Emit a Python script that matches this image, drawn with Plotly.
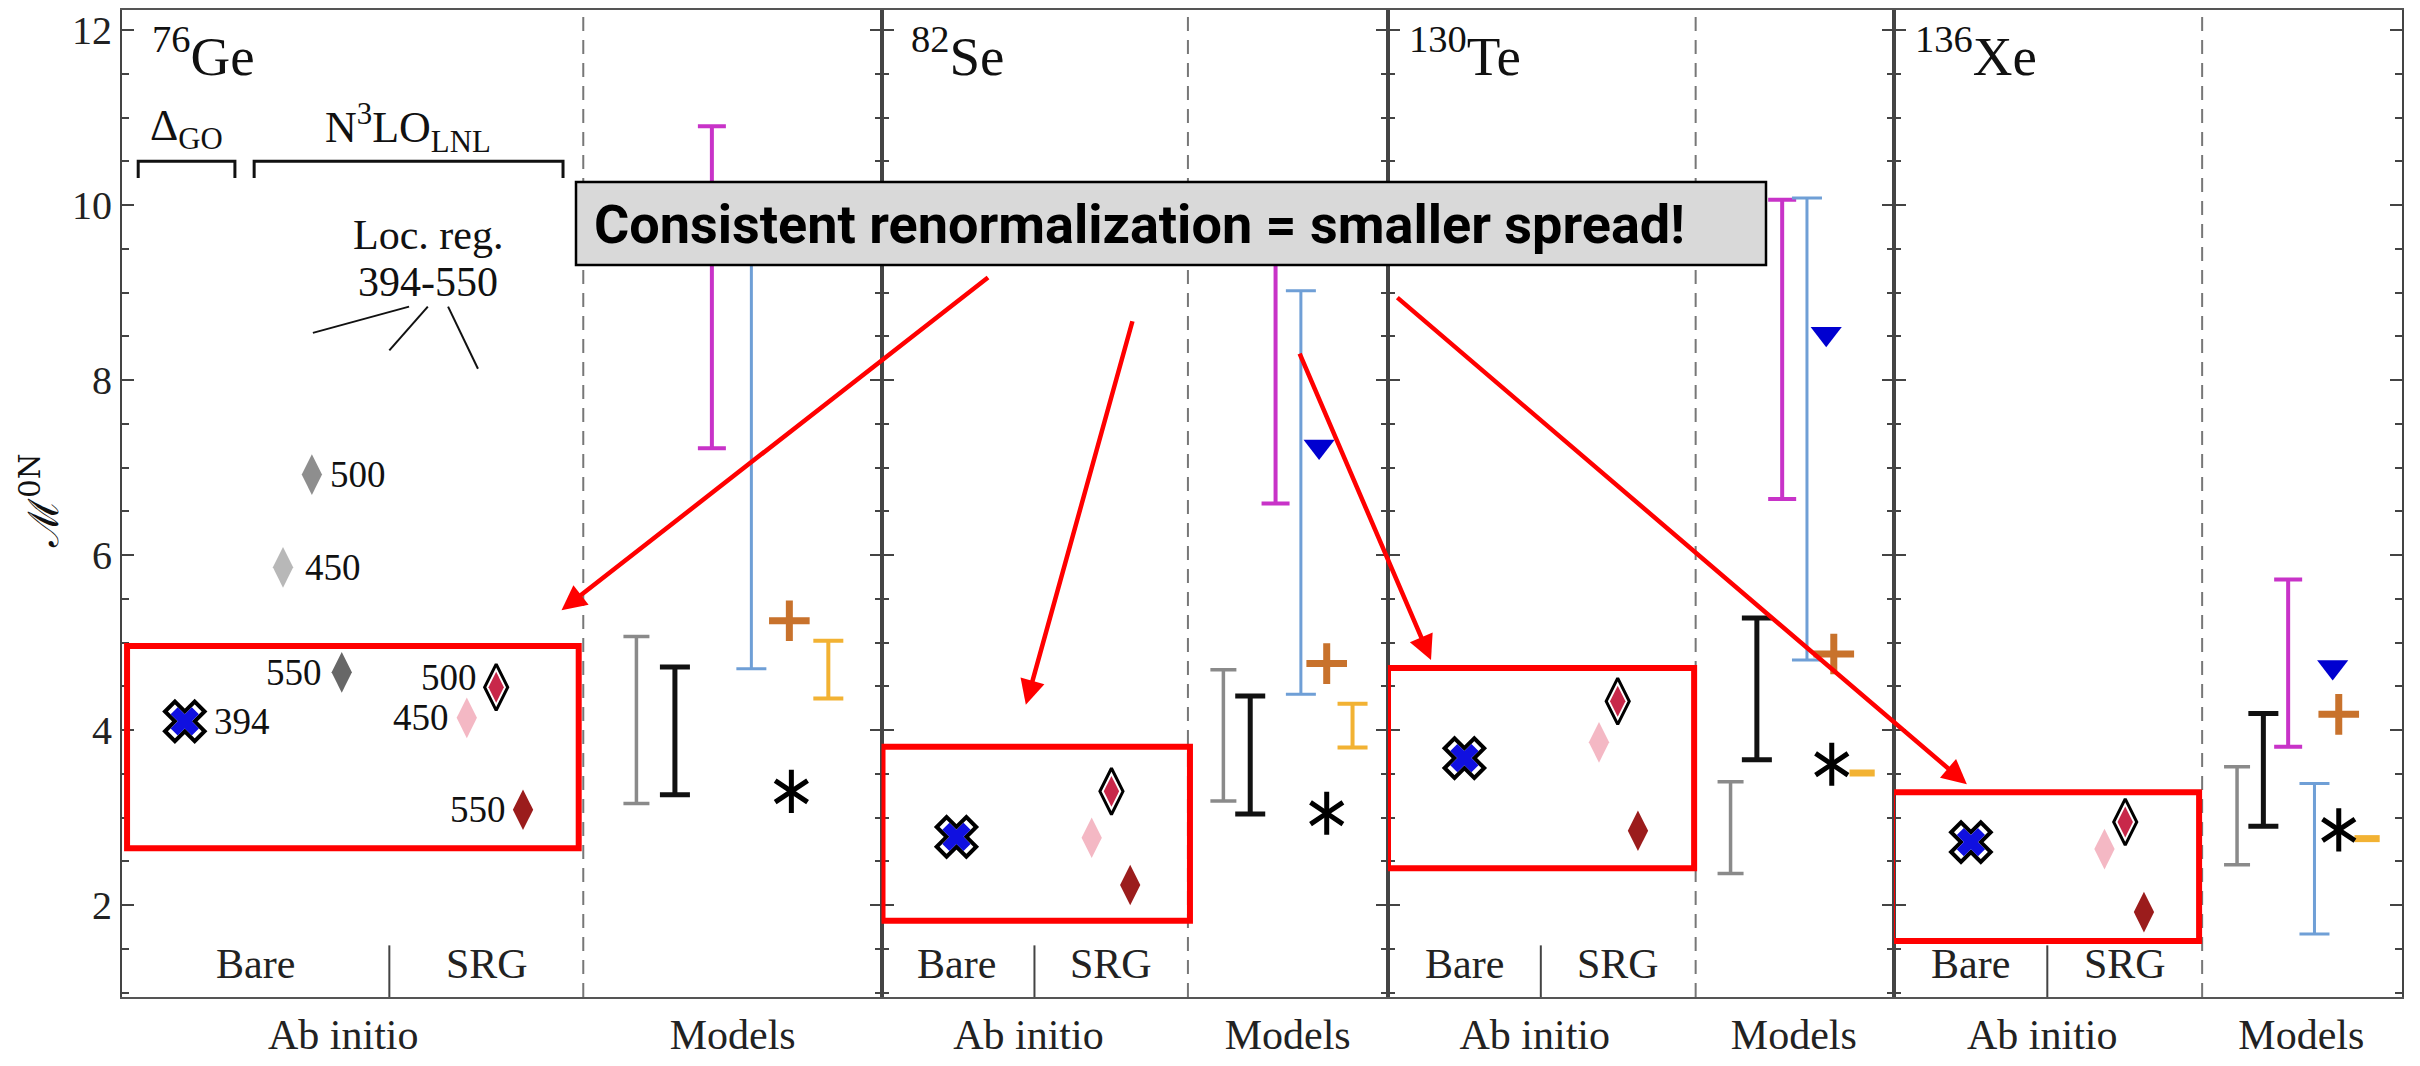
import numpy as np
import plotly.graph_objects as go

# ---------------- data ----------------
Y_RANGE = [0.95, 12.23]
panel_names = ["Ge", "Se", "Te", "Xe"]
panel_mass = ["76", "82", "130", "136"]
x_cat_labels = ["Ab initio", "Models"]

# Ab initio (bare cross = 394, SRG diamonds = 450/500/550)
bare_394 = [4.10, 2.78, 3.68, 2.72]
srg_450 = [4.14, 2.77, 3.86, 2.64]
srg_500 = [4.49, 3.30, 4.33, 2.95]
srg_550 = [3.09, 2.23, 2.85, 1.92]
ge_bare_cutoffs = ["450", "500", "550"]
ge_bare_values = [5.86, 6.92, 4.66]
ge_srg_cutoffs = ["450", "500", "550"]

# Models: ranges (low, high)
gray_lo = [3.16, 3.19, 2.36, 2.46]
gray_hi = [5.07, 4.69, 3.41, 3.58]
black_lo = [3.26, 3.04, 3.66, 2.90]
black_hi = [4.72, 4.39, 5.28, 4.19]
magenta_lo = [7.22, 6.59, 6.64, 3.81]
magenta_hi = [10.90, 9.85, 10.06, 5.72]
blue_lo = [4.70, 4.41, 4.80, 1.67]
blue_hi = [9.90, 9.02, 10.08, 3.39]
yellow_lo = [4.36, 3.80, 3.51, 2.76]
yellow_hi = [5.02, 4.30, 3.51, 2.76]
triangle_vals = [None, 7.24, 8.53, 4.72]
plus_vals = [5.25, 4.76, 4.87, 4.18]
star_vals = [3.30, 3.05, 3.61, 2.86]

# ---------------- layout of slots (local panel units) ----------------
panel_px = [122, 881.5, 1388, 1894, 2402]
panel_range = [15.0, 10.0, 10.0, 10.04]

slots = [
    dict(bare=1.24, s450=6.81, s500=7.39, s550=7.92, sep=5.28, dash=9.11, ab=4.37, mod=12.06,
         gray=10.16, black=10.92, mag=11.65, blue=12.43, tri=None, plus=13.18, star=13.22, yel=13.95,
         baretxt=2.63, srgtxt=7.21),
    dict(bare=1.48, s450=4.15, s500=4.54, s550=4.91, sep=3.02, dash=6.05, ab=2.90, mod=8.02,
         gray=6.75, black=7.28, mag=7.78, blue=8.28, tri=8.64, plus=8.79, star=8.79, yel=9.30,
         baretxt=1.48, srgtxt=4.54),
    dict(bare=1.51, s450=4.17, s500=4.54, s550=4.94, sep=3.02, dash=6.08, ab=2.90, mod=8.02,
         gray=6.77, black=7.29, mag=7.79, blue=8.28, tri=8.66, plus=8.81, star=8.77, yel=9.37,
         baretxt=1.51, srgtxt=4.54),
    dict(bare=1.52, s450=4.16, s500=4.57, s550=4.94, sep=3.03, dash=6.09, ab=2.93, mod=8.05,
         gray=6.78, black=7.30, mag=7.79, blue=8.31, tri=8.67, plus=8.79, star=8.79, yel=9.35,
         baretxt=1.52, srgtxt=4.57),
]
ge_bare_x = [3.18, 3.75, 4.34]

SERIF = "Liberation Serif"
C_GRAY, C_BLACK, C_MAG, C_BLUE, C_YEL = "#8a8a8a", "#111111", "#c833c8", "#6f9fd6", "#f2b233"
C_PLUS, C_TRI = "#c8722c", "#0000d0"
C_PINK, C_CRIM, C_DRED = "#f4b8c4", "#c8284a", "#9b1c1c"
GE_BARE_COLORS = ["#b8b8b8", "#8e8e8e", "#676767"]

fig = go.Figure()
shapes, annotations = [], []
layout = dict(width=2420, height=1066, margin=dict(l=122, r=18, t=8, b=59),
              paper_bgcolor="white", plot_bgcolor="white", showlegend=False)

W = panel_px[-1] - panel_px[0]


def add(tr, xa, ya):
    tr.update(xaxis=xa, yaxis=ya, showlegend=False, hoverinfo="skip")
    fig.add_trace(tr)


def errbar(x, lo, hi, color, thick, w, xa, ya):
    add(go.Scatter(x=[x], y=[lo], mode="markers",
                   marker=dict(size=1, color="rgba(0,0,0,0)"),
                   error_y=dict(type="data", symmetric=False, array=[hi - lo], arrayminus=[0],
                                color=color, thickness=thick, width=w)), xa, ya)


for i in range(4):
    xa = "x" if i == 0 else f"x{i+1}"
    ya = "y" if i == 0 else f"y{i+1}"
    xk = "xaxis" if i == 0 else f"xaxis{i+1}"
    yk = "yaxis" if i == 0 else f"yaxis{i+1}"
    s = slots[i]
    d0 = (panel_px[i] - panel_px[0]) / W
    d1 = (panel_px[i + 1] - panel_px[0]) / W
    layout[xk] = dict(domain=[d0, d1], range=[0, panel_range[i]], anchor=ya,
                      showline=True, linecolor="#555", linewidth=2, mirror=True,
                      ticks="", tickvals=[s["ab"], s["mod"]], ticktext=x_cat_labels,
                      tickfont=dict(family=SERIF, size=42, color="#222"),
                      showgrid=False, zeroline=False)
    layout[yk] = dict(domain=[0, 1], range=Y_RANGE, anchor=xa,
                      showline=True, linecolor="#444", linewidth=2, mirror="ticks",
                      ticks="inside", ticklen=12, tickwidth=2, tickcolor="#444",
                      tickvals=[2, 4, 6, 8, 10, 12], showticklabels=(i == 0),
                      tickfont=dict(family=SERIF, size=40, color="#222"),
                      minor=dict(dtick=0.5, tick0=0, ticks="inside", ticklen=7,
                                 tickwidth=2, tickcolor="#444"),
                      showgrid=False, zeroline=False)

    # dashed separator Ab initio | Models
    shapes.append(dict(type="line", xref=xa, yref=f"{ya} domain", x0=s["dash"], x1=s["dash"],
                       y0=0, y1=1, line=dict(color="#777", width=2, dash="14px,9px"), layer="below"))
    # Bare | SRG separator
    shapes.append(dict(type="line", xref=xa, yref=ya, x0=s["sep"], x1=s["sep"],
                       y0=Y_RANGE[0], y1=1.54, line=dict(color="#444", width=2)))
    annotations.append(dict(xref=xa, yref=ya, x=s["baretxt"], y=1.33, text="Bare", showarrow=False,
                            font=dict(family=SERIF, size=42, color="#222")))
    annotations.append(dict(xref=xa, yref=ya, x=s["srgtxt"], y=1.33, text="SRG", showarrow=False,
                            font=dict(family=SERIF, size=42, color="#222")))
    # nucleus label
    annotations.append(dict(xref=xa, yref=ya, x=(0.55 if i < 2 else 0.37), y=11.75,
                            xanchor="left", yanchor="middle",
                            text=f"<sup>{panel_mass[i]}</sup>{panel_names[i]}", showarrow=False,
                            font=dict(family=SERIF, size=55, color="#111")))

    # ---- models ----
    errbar(s["gray"], gray_lo[i], gray_hi[i], C_GRAY, 3.5, 13, xa, ya)
    errbar(s["black"], black_lo[i], black_hi[i], C_BLACK, 5, 15, xa, ya)
    errbar(s["mag"], magenta_lo[i], magenta_hi[i], C_MAG, 4, 14, xa, ya)
    errbar(s["blue"], blue_lo[i], blue_hi[i], C_BLUE, 3, 15, xa, ya)
    if yellow_hi[i] > yellow_lo[i]:
        errbar(s["yel"], yellow_lo[i], yellow_hi[i], C_YEL, 4, 15, xa, ya)
    else:
        add(go.Scatter(x=[s["yel"]], y=[yellow_lo[i]], mode="markers",
                       marker=dict(symbol="line-ew", size=18, line=dict(color=C_YEL, width=7))), xa, ya)
    if triangle_vals[i] is not None:
        add(go.Scatter(x=[s["tri"]], y=[triangle_vals[i]], mode="markers",
                       marker=dict(symbol="triangle-down", size=27, color=C_TRI)), xa, ya)
    add(go.Scatter(x=[s["plus"]], y=[plus_vals[i]], mode="markers",
                   marker=dict(symbol="cross-thin", size=29, line=dict(color=C_PLUS, width=7))), xa, ya)
    for sym in ["y-up", "y-down"]:
        add(go.Scatter(x=[s["star"]], y=[star_vals[i]], mode="markers",
                       marker=dict(symbol=sym, size=27, line=dict(color="#000", width=5))), xa, ya)

    # ---- ab initio ----
    add(go.Scatter(x=[s["s450"]], y=[srg_450[i]], mode="markers",
                   marker=dict(symbol="diamond-tall", size=29, color=C_PINK)), xa, ya)
    add(go.Scatter(x=[s["s550"]], y=[srg_550[i]], mode="markers",
                   marker=dict(symbol="diamond-tall", size=29, color=C_DRED)), xa, ya)
    add(go.Scatter(x=[s["s500"]], y=[srg_500[i]], mode="markers",
                   marker=dict(symbol="diamond-tall", size=33, color="white",
                               line=dict(color="black", width=3))), xa, ya)
    add(go.Scatter(x=[s["s500"]], y=[srg_500[i]], mode="markers",
                   marker=dict(symbol="diamond-tall", size=22, color=C_CRIM)), xa, ya)
    add(go.Scatter(x=[s["bare"]], y=[bare_394[i]], mode="markers",
                   marker=dict(symbol="x", size=35, color="white",
                               line=dict(color="black", width=4))), xa, ya)
    add(go.Scatter(x=[s["bare"]], y=[bare_394[i]], mode="markers",
                   marker=dict(symbol="x", size=25, color="#1010e0")), xa, ya)

    # red highlight box around ab initio region
    box = [(0.10, 9.02, 2.65, 4.96), (0.02, 6.09, 1.82, 3.81),
           (0.0, 6.05, 2.42, 4.71), (-0.04, 6.03, 1.59, 3.29)][i]
    shapes.append(dict(type="rect", xref=xa, yref=ya, x0=box[0], x1=box[1], y0=box[2], y1=box[3],
                       line=dict(color="#ff0000", width=6), layer="above"))

# ---- Ge bare diamonds with labels ----
for k in range(3):
    add(go.Scatter(x=[ge_bare_x[k]], y=[ge_bare_values[k]], mode="markers",
                   marker=dict(symbol="diamond-tall", size=29, color=GE_BARE_COLORS[k])), "x", "y")

LBL = dict(family=SERIF, size=37, color="#111")
ge_labels = [
    (1.78, bare_394[0], "394", "left"),
    (ge_bare_x[0] + 0.39, ge_bare_values[0], ge_bare_cutoffs[0], "left"),
    (ge_bare_x[1] + 0.32, ge_bare_values[1], ge_bare_cutoffs[1], "left"),
    (ge_bare_x[2] - 0.35, ge_bare_values[2], ge_bare_cutoffs[2], "right"),
    (slots[0]["s450"] - 0.32, srg_450[0], ge_srg_cutoffs[0], "right"),
    (slots[0]["s500"] - 0.33, srg_500[0] + 0.11, ge_srg_cutoffs[1], "right"),
    (slots[0]["s550"] - 0.29, srg_550[0], ge_srg_cutoffs[2], "right"),
]
for (x, y, t, anc) in ge_labels:
    annotations.append(dict(xref="x", yref="y", x=x, y=y, text=t, xanchor=anc, yanchor="middle",
                            showarrow=False, font=LBL))

# Interaction labels and brackets (Ge panel)
annotations.append(dict(xref="x", yref="y", x=1.27, y=10.88, text="Δ<sub>GO</sub>", showarrow=False,
                        font=dict(family=SERIF, size=44, color="#111")))
annotations.append(dict(xref="x", yref="y", x=5.64, y=10.88, text="N<sup>3</sup>LO<sub>LNL</sub>",
                        showarrow=False, font=dict(family=SERIF, size=44, color="#111")))
for (xl, xr) in [(0.32, 2.23), (2.61, 8.71)]:
    shapes.append(dict(type="path", xref="x", yref="y",
                       path=f"M {xl},10.31 L {xl},10.50 L {xr},10.50 L {xr},10.31",
                       line=dict(color="#111", width=3)))
for (t, yv) in [("Loc. reg.", 9.66), ("394-550", 9.12)]:
    annotations.append(dict(xref="x", yref="y", x=6.04, y=yv, text=t,
                            showarrow=False, font=dict(family=SERIF, size=42, color="#111")))
for (xa0, ya0, xa1, ya1) in [(3.77, 8.54, 5.67, 8.84), (5.28, 8.34, 6.04, 8.84), (6.44, 8.84, 7.03, 8.13)]:
    shapes.append(dict(type="line", xref="x", yref="y", x0=xa0, y0=ya0, x1=xa1, y1=ya1,
                       line=dict(color="#111", width=2)))

# y axis title
annotations.append(dict(xref="paper", yref="paper", x=(40 - 122) / W, y=0.5025, text="ℳ<sup>0N</sup>",
                        textangle=-90, showarrow=False, xanchor="center", yanchor="middle",
                        font=dict(family="DejaVu Serif", size=42, color="#111")))

# call-out box
def px_x(v):
    return (v - 122) / W


def px_y(v):
    return (1007 - v) / 999


shapes.append(dict(type="rect", xref="paper", yref="paper", x0=px_x(576), x1=px_x(1766),
                   y0=px_y(266), y1=px_y(182), fillcolor="#d9d9d9",
                   line=dict(color="black", width=2.5), layer="above"))
annotations.append(dict(xref="paper", yref="paper", x=px_x(592), y=px_y(225), xanchor="left",
                        yanchor="middle", showarrow=False,
                        text="<b>Consistent renormalization = smaller spread!</b>",
                        font=dict(family="Roboto", size=54, color="black")))

# red arrows (tip in panel coordinates, tail as pixel offset)
arrows = [("x", "y", 8.68, 5.37, 428, -334), ("x2", "y2", 2.85, 4.29, 107, -385),
          ("x3", "y3", 0.85, 4.80, -132, -308), ("x4", "y4", 1.44, 3.38, -571, -488)]
for (xa, ya, x, y, ax, ay) in arrows:
    annotations.append(dict(xref=xa, yref=ya, x=x, y=y, ax=ax, ay=ay, axref="pixel", ayref="pixel",
                            text="", showarrow=True, arrowhead=2, arrowsize=1.1, arrowwidth=4.5,
                            arrowcolor="#ff0000", standoff=0))

layout["shapes"] = shapes
layout["annotations"] = annotations
fig.update_layout(**layout)
fig.write_html("out.html")
